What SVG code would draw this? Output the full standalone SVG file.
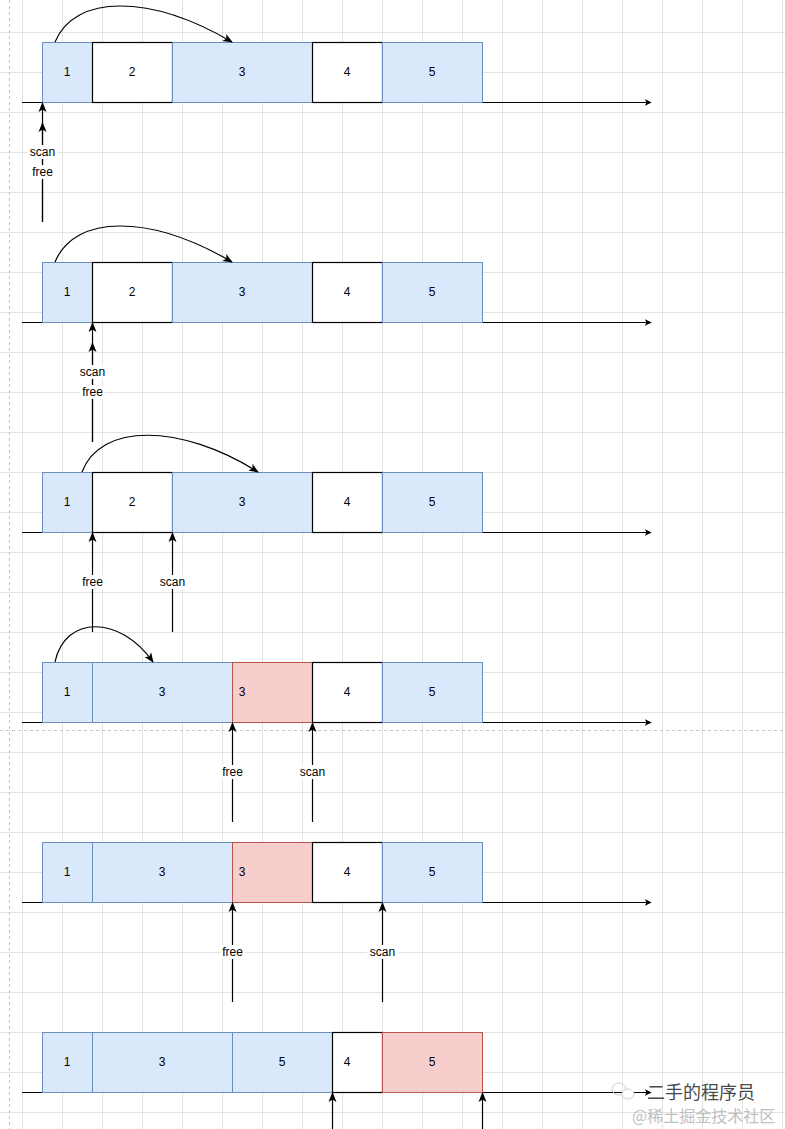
<svg xmlns="http://www.w3.org/2000/svg" width="785" height="1129" viewBox="0 0 785 1129">
<defs>
<style>
.grid{stroke:#e3e3e3;stroke-width:1;fill:none}
.dash{stroke:#c4c4c4;stroke-width:1;stroke-dasharray:3 3;fill:none}
.axis{stroke:#000;stroke-width:1.2;fill:none}
.ptr{stroke:#000;stroke-width:1.2;fill:none}
.curve{stroke:#000;stroke-width:1.2;fill:none}
.blue{fill:#dae8fc;stroke:#6c8ebf;stroke-width:1}
.red{fill:#f8cecc;stroke:#b85450;stroke-width:1}
.white{fill:#ffffff;stroke:#000000;stroke-width:1.2}
.num{font-family:"Liberation Sans",Arial,sans-serif;font-size:12px;fill:#000;text-anchor:middle;dominant-baseline:central}
.lbl{font-family:"Liberation Sans",Arial,sans-serif;font-size:12px;fill:#000;text-anchor:middle;dominant-baseline:central}
.lblbg{fill:#fff}
</style>
<marker id="ah" viewBox="0 0 10 10" refX="9" refY="5" markerWidth="7" markerHeight="7" orient="auto" markerUnits="userSpaceOnUse">
<path d="M0,0 L10,5 L0,10 L2.5,5 Z" fill="#000"/>
</marker>
<marker id="ahb" viewBox="0 0 10 10" refX="9" refY="5" markerWidth="10" markerHeight="10" orient="auto" markerUnits="userSpaceOnUse">
<path d="M0,1 L10,5 L0,9 L2.5,5 Z" fill="#000"/>
</marker>
</defs>
<rect x="0" y="0" width="785" height="1129" fill="#ffffff"/>
<g id="grid">
<path class="grid" d="M22.5,0V1129M62.5,0V1129M102.5,0V1129M142.5,0V1129M182.5,0V1129M222.5,0V1129M262.5,0V1129M302.5,0V1129M342.5,0V1129M382.5,0V1129M422.5,0V1129M462.5,0V1129M502.5,0V1129M542.5,0V1129M582.5,0V1129M622.5,0V1129M662.5,0V1129M702.5,0V1129M742.5,0V1129M782.5,0V1129"/>
<path class="grid" d="M0,32.5H785M0,72.5H785M0,112.5H785M0,152.5H785M0,192.5H785M0,232.5H785M0,272.5H785M0,312.5H785M0,352.5H785M0,392.5H785M0,432.5H785M0,472.5H785M0,512.5H785M0,552.5H785M0,592.5H785M0,632.5H785M0,672.5H785M0,712.5H785M0,752.5H785M0,792.5H785M0,832.5H785M0,872.5H785M0,912.5H785M0,952.5H785M0,992.5H785M0,1032.5H785M0,1072.5H785M0,1112.5H785"/>
<path class="dash" d="M9.5,0V1129M0,730.5H785"/>
</g>
<g id="connectors">
<path class="axis" d="M22,102.5H651" marker-end="url(#ah)"/>
<path class="axis" d="M22,322.5H651" marker-end="url(#ah)"/>
<path class="axis" d="M22,532.5H651" marker-end="url(#ah)"/>
<path class="axis" d="M22,722.5H651" marker-end="url(#ah)"/>
<path class="axis" d="M22,902.5H651" marker-end="url(#ah)"/>
<path class="axis" d="M22,1092.5H651" marker-end="url(#ah)"/>
</g>
<g id="row1">
<rect class="blue" x="42.5" y="42.5" width="50" height="60"/><text class="num" x="67" y="72">1</text>
<rect class="white" x="92.5" y="42.5" width="80" height="60"/><text class="num" x="132" y="72">2</text>
<rect class="blue" x="172.5" y="42.5" width="140" height="60"/><text class="num" x="242" y="72">3</text>
<rect class="white" x="312.5" y="42.5" width="70" height="60"/><text class="num" x="347" y="72">4</text>
<rect class="blue" x="382.5" y="42.5" width="100" height="60"/><text class="num" x="432" y="72">5</text>
</g>
<g id="row2">
<rect class="blue" x="42.5" y="262.5" width="50" height="60"/><text class="num" x="67" y="292">1</text>
<rect class="white" x="92.5" y="262.5" width="80" height="60"/><text class="num" x="132" y="292">2</text>
<rect class="blue" x="172.5" y="262.5" width="140" height="60"/><text class="num" x="242" y="292">3</text>
<rect class="white" x="312.5" y="262.5" width="70" height="60"/><text class="num" x="347" y="292">4</text>
<rect class="blue" x="382.5" y="262.5" width="100" height="60"/><text class="num" x="432" y="292">5</text>
</g>
<g id="row3">
<rect class="blue" x="42.5" y="472.5" width="50" height="60"/><text class="num" x="67" y="502">1</text>
<rect class="white" x="92.5" y="472.5" width="80" height="60"/><text class="num" x="132" y="502">2</text>
<rect class="blue" x="172.5" y="472.5" width="140" height="60"/><text class="num" x="242" y="502">3</text>
<rect class="white" x="312.5" y="472.5" width="70" height="60"/><text class="num" x="347" y="502">4</text>
<rect class="blue" x="382.5" y="472.5" width="100" height="60"/><text class="num" x="432" y="502">5</text>
</g>
<g id="row4">
<rect class="blue" x="42.5" y="662.5" width="50" height="60"/><text class="num" x="67" y="692">1</text>
<rect class="blue" x="92.5" y="662.5" width="140" height="60"/><text class="num" x="162" y="692">3</text>
<rect class="red" x="232.5" y="662.5" width="80" height="60"/><text class="num" x="242" y="692">3</text>
<rect class="white" x="312.5" y="662.5" width="70" height="60"/><text class="num" x="347" y="692">4</text>
<rect class="blue" x="382.5" y="662.5" width="100" height="60"/><text class="num" x="432" y="692">5</text>
</g>
<g id="row5">
<rect class="blue" x="42.5" y="842.5" width="50" height="60"/><text class="num" x="67" y="872">1</text>
<rect class="blue" x="92.5" y="842.5" width="140" height="60"/><text class="num" x="162" y="872">3</text>
<rect class="red" x="232.5" y="842.5" width="80" height="60"/><text class="num" x="242" y="872">3</text>
<rect class="white" x="312.5" y="842.5" width="70" height="60"/><text class="num" x="347" y="872">4</text>
<rect class="blue" x="382.5" y="842.5" width="100" height="60"/><text class="num" x="432" y="872">5</text>
</g>
<g id="row6">
<rect class="blue" x="42.5" y="1032.5" width="50" height="60"/><text class="num" x="67" y="1062">1</text>
<rect class="blue" x="92.5" y="1032.5" width="140" height="60"/><text class="num" x="162" y="1062">3</text>
<rect class="blue" x="232.5" y="1032.5" width="100" height="60"/><text class="num" x="282" y="1062">5</text>
<rect class="white" x="332.5" y="1032.5" width="50" height="60"/><text class="num" x="347" y="1062">4</text>
<rect class="red" x="382.5" y="1032.5" width="100" height="60"/><text class="num" x="432" y="1062">5</text>
</g>
<g id="pointers">
<path class="ptr" d="M42.5,222V103" marker-end="url(#ahb)"/>
<path class="ptr" d="M42.5,222V123" marker-end="url(#ahb)"/>
<rect class="lblbg" x="27" y="145" width="31" height="14"/><text class="lbl" x="42.5" y="152">scan</text>
<rect class="lblbg" x="30" y="165" width="25" height="14"/><text class="lbl" x="42.5" y="172">free</text>

<path class="ptr" d="M92.5,442V323" marker-end="url(#ahb)"/>
<path class="ptr" d="M92.5,442V343" marker-end="url(#ahb)"/>
<rect class="lblbg" x="77" y="365" width="31" height="14"/><text class="lbl" x="92.5" y="372">scan</text>
<rect class="lblbg" x="80" y="385" width="25" height="14"/><text class="lbl" x="92.5" y="392">free</text>

<path class="ptr" d="M92.5,632V533" marker-end="url(#ahb)"/>
<rect class="lblbg" x="80" y="575" width="25" height="14"/><text class="lbl" x="92.5" y="582">free</text>
<path class="ptr" d="M172.5,632V533" marker-end="url(#ahb)"/>
<rect class="lblbg" x="157" y="575" width="31" height="14"/><text class="lbl" x="172.5" y="582">scan</text>

<path class="ptr" d="M232.5,822V723" marker-end="url(#ahb)"/>
<rect class="lblbg" x="220" y="765" width="25" height="14"/><text class="lbl" x="232.5" y="772">free</text>
<path class="ptr" d="M312.5,822V723" marker-end="url(#ahb)"/>
<rect class="lblbg" x="297" y="765" width="31" height="14"/><text class="lbl" x="312.5" y="772">scan</text>

<path class="ptr" d="M232.5,1002V903" marker-end="url(#ahb)"/>
<rect class="lblbg" x="220" y="945" width="25" height="14"/><text class="lbl" x="232.5" y="952">free</text>
<path class="ptr" d="M382.5,1002V903" marker-end="url(#ahb)"/>
<rect class="lblbg" x="367" y="945" width="31" height="14"/><text class="lbl" x="382.5" y="952">scan</text>

<path class="ptr" d="M332.5,1135V1093" marker-end="url(#ahb)"/>
<path class="ptr" d="M482.5,1135V1093" marker-end="url(#ahb)"/>
</g>
<g id="moves">
<path class="curve" d="M55,42 C75,-6 150,-6 232,42" marker-end="url(#ahb)"/>
<path class="curve" d="M55,262 C75,214 150,214 232,262" marker-end="url(#ahb)"/>
<path class="curve" d="M82,472 C100,423 180,423 258,472" marker-end="url(#ahb)"/>
<path class="curve" d="M55,662 C65,615 120,615 153,662" marker-end="url(#ahb)"/>
</g>
<g id="watermark">
<ellipse cx="619" cy="1089" rx="7" ry="6" fill="none" stroke="#cfcfcf" stroke-width="1"/>
<ellipse cx="628" cy="1094" rx="6" ry="5" fill="#fff" stroke="#cfcfcf" stroke-width="1"/>
<text x="647" y="1099" font-family="'Noto Sans CJK SC','Noto Sans',sans-serif" font-size="18" fill="#4a4a4a">二手的程序员</text>
<text x="632" y="1122" font-family="'Noto Sans CJK SC','Noto Sans',sans-serif" font-size="16" fill="#c0c0c0">@稀土掘金技术社区</text>
</g>
</svg>
